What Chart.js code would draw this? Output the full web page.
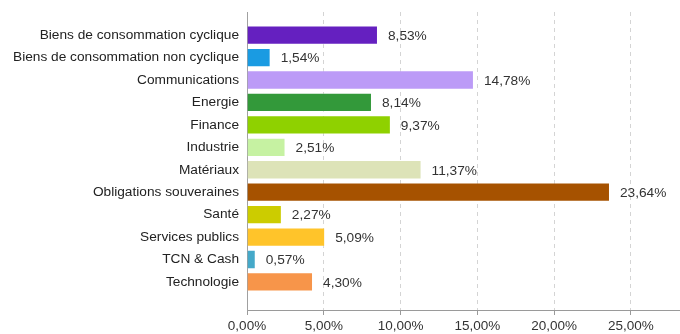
<!DOCTYPE html>
<html>
<head>
<meta charset="utf-8">
<script src="https://cdn.jsdelivr.net/npm/chart.js@4/dist/chart.umd.min.js"></script>
<style>
  html, body { margin: 0; padding: 0; background: #fff; }
  #wrap { width: 680px; height: 334px; }
</style>
</head>
<body>
<div id="wrap"><canvas id="secteurs"></canvas></div>
<script>
  "use strict";

  const sectors = [
    "Biens de consommation cyclique",
    "Biens de consommation non cyclique",
    "Communications",
    "Energie",
    "Finance",
    "Industrie",
    "Matériaux",
    "Obligations souveraines",
    "Santé",
    "Services publics",
    "TCN & Cash",
    "Technologie"
  ];

  const weights = [8.53, 1.54, 14.78, 8.14, 9.37, 2.51, 11.37, 23.64, 2.27, 5.09, 0.57, 4.30];

  const sectorColors = [
    "#6520c0", "#1a9be2", "#bc9bf7", "#33993a", "#8fd100", "#c6f2a2",
    "#dde3b8", "#a65200", "#cccc00", "#ffc42a", "#45a9c9", "#f7954a"
  ];

  const xTicks = [0, 5, 10, 15, 20, 25];

  const fmt = (v) => v.toFixed(2).replace(".", ",") + "%";
  const FONT = "'Liberation Sans', Arial, sans-serif";

  // value text at the end of each bar
  const valueLabels = {
    id: "valueLabels",
    afterDatasetsDraw(chart) {
      const ctx = chart.ctx;
      const meta = chart.getDatasetMeta(0);
      ctx.save();
      ctx.font = "13.7px " + FONT;
      ctx.fillStyle = "#333";
      ctx.textAlign = "left";
      ctx.textBaseline = "middle";
      meta.data.forEach((bar, i) => {
        ctx.fillText(fmt(weights[i]), bar.x + 10, bar.y + 1);
      });
      ctx.restore();
    }
  };

  new Chart(document.getElementById("secteurs").getContext("2d"), {
    type: "bar",
    data: {
      datasets: [{
        data: weights.map((w, i) => ({ x: w, y: i })),
        backgroundColor: sectorColors,
        borderColor: "rgba(255,255,255,0.35)",
        borderWidth: 1,
        borderSkipped: "left",
        barPercentage: 0.86,
        categoryPercentage: 1
      }]
    },
    options: {
      indexAxis: "y",
      responsive: true,
      maintainAspectRatio: false,
      animation: false,
      events: [],
      layout: { padding: { top: 12, right: 0, left: 0, bottom: 0 } },
      plugins: {
        legend: { display: false },
        tooltip: { enabled: false }
      },
      scales: {
        x: {
          type: "linear",
          min: 0,
          max: 28.2,
          afterBuildTicks: (scale) => {
            scale.ticks = xTicks.map((v) => ({ value: v }));
          },
          afterFit: (scale) => {
            scale.height = 24;
            scale.paddingLeft = 0;
            scale.paddingRight = 0;
          },
          ticks: {
            callback: (v) => fmt(v),
            font: { family: FONT, size: 13.5 },
            color: "#333",
            padding: 3,
            maxRotation: 0
          },
          grid: {
            color: "#d4d4d4",
            tickColor: "#9a9a9a",
            tickLength: 5,
            tickBorderDash: []
          },
          border: { display: true, color: "#9a9a9a", dash: [4, 4] }
        },
        y: {
          type: "linear",
          reverse: true,
          offset: false,
          min: -1.03,
          max: 12.25,
          afterBuildTicks: (scale) => {
            scale.ticks = sectors.map((s, i) => ({ value: i }));
          },
          afterFit: (scale) => {
            scale.width = 247;
            scale.paddingTop = 0;
            scale.paddingBottom = 0;
          },
          ticks: {
            callback: (v) => sectors[v],
            font: { family: FONT, size: 13.7 },
            color: "#222",
            padding: 8
          },
          grid: { display: false, drawTicks: false },
          border: { display: true, color: "#a0a0a0" }
        }
      }
    },
    plugins: [valueLabels]
  });
</script>
</body>
</html>
